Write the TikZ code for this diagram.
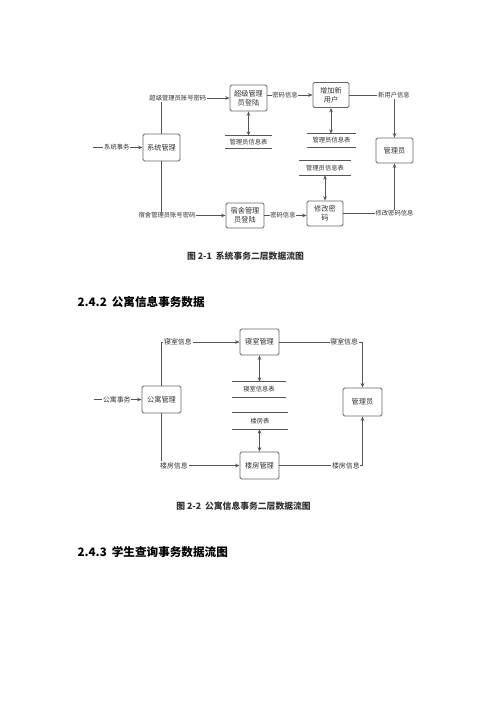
\documentclass[tikz,border=0pt]{standalone}
\usepackage{fontspec}
\setmainfont{Noto Sans CJK SC}
\usetikzlibrary{arrows.meta}
\definecolor{ln}{HTML}{555555}
\definecolor{bx}{HTML}{666666}
\definecolor{tx}{HTML}{333333}
\begin{document}
\begin{tikzpicture}[x=1pt,y=-1pt,
  box/.style={draw=bx, line width=0.8pt, rounded corners=1.5pt, fill=white, inner sep=0pt, align=center, text=tx, font=\fontsize{7.2}{8.6}\selectfont},
  lbl/.style={fill=white, inner sep=0.8pt, text=tx, font=\fontsize{6.3}{7}\selectfont},
  lblb/.style={fill=white, inner sep=0.8pt, text=tx, font=\fontsize{6.9}{7.5}\selectfont},
  store/.style={inner sep=0pt, text=tx, font=\fontsize{6.3}{7}\selectfont},
  tl/.style={draw=ln, line width=0.8pt},
  arr/.style={draw=ln, line width=0.8pt, -{Stealth[length=4.5pt,width=3.6pt]}},
  darr/.style={draw=ln, line width=0.8pt, {Stealth[length=4.5pt,width=3.6pt]}-{Stealth[length=4.5pt,width=3.6pt]}},
  figcap/.style={text=tx, font=\bfseries\fontsize{8.8}{10}\selectfont},
  head/.style={text=black, font=\bfseries\fontsize{11.6}{13}\selectfont, anchor=west}
]
\useasboundingbox[fill=white] (0,0) rectangle (500,707);

% ---------- Figure 2-1 ----------
\node[box, minimum width=37pt, minimum height=27pt] (sys) at (161.5,147.5) {系统管理};
\node[box, minimum width=37pt, minimum height=26pt] (sup) at (248.5,98) {超级管理\\员登陆};
\node[box, minimum width=36pt, minimum height=25pt] (add) at (331,95) {增加新\\用户};
\node[box, minimum width=38pt, minimum height=25pt] (dorm) at (245,215.5) {宿舍管理\\员登陆};
\node[box, minimum width=36pt, minimum height=25pt] (mod) at (325,213.5) {修改密\\码};
\node[box, minimum width=37pt, minimum height=25pt] (adm) at (394.5,150.5) {管理员};

\node[store, minimum width=47pt, minimum height=12pt] (t1) at (248.5,142) {管理员信息表};
\node[store, minimum width=49pt, minimum height=13pt] (t2) at (331.5,140.5) {管理员信息表};
\node[store, minimum width=52pt, minimum height=14pt] (t3) at (325,168) {管理员信息表};
\foreach \t in {t1,t2,t3}{
  \draw[tl] (\t.north west) -- (\t.north east);
  \draw[tl] (\t.south west) -- (\t.south east);
}

\coordinate (in1) at (93,147.5);
\draw[arr] (in1) -- node[lbl,pos=0.48] {系统事务} (sys.west);
\draw[arr] (sys.north) |- node[lbl,pos=0.62] {超级管理员账号密码} (sup.west);
\draw[arr] (sys.south) |- node[lbl,pos=0.543] {宿舍管理员账号密码} (dorm.west);
\draw[arr] (sup.east |- add.west) -- node[lbl,pos=0.39] {密码信息} (add.west);
\draw[arr] (dorm.east) -- node[lbl,pos=0.44] {密码信息} (dorm.east -| mod.west);
\draw[arr] (add.east) -| node[lbl,pos=0.494] {新用户信息} (adm.north);
\draw[arr] (mod.east) -| node[lbl,pos=0.5] {修改密码信息} (adm.south);
\draw[darr] (sup.south) -- (sup.south |- t1.north);
\draw[darr] (add.south) -- (add.south |- t2.north);
\draw[darr] (mod.north |- t3.south) -- (mod.north);

\node[figcap] (cap1) at (245.5,256) {图 2-1\hspace{4pt}系统事务二层数据流图};
\node[head] (h1) at (74,302) {2.4.2\hspace{5pt}公寓信息事务数据};

% ---------- Figure 2-2 ----------
\node[box, minimum width=39pt, minimum height=27pt] (apt) at (161.5,399.5) {公寓管理};
\node[box, minimum width=39pt, minimum height=26pt] (room) at (259.5,342) {寝室管理};
\node[box, minimum width=39pt, minimum height=27pt] (bldg) at (259.5,465.5) {楼房管理};
\node[box, minimum width=39pt, minimum height=28pt] (adm2) at (362.5,402) {管理员};

\node[store, minimum width=54pt, minimum height=15pt] (t4) at (259,389.5) {寝室信息表};
\node[store, minimum width=56pt, minimum height=16pt] (t5) at (260,421) {楼房表};
\foreach \t in {t4,t5}{
  \draw[tl] (\t.north west) -- (\t.north east);
  \draw[tl] (\t.south west) -- (\t.south east);
}

\coordinate (in2) at (94,399.5);
\draw[arr] (in2) -- node[lblb,pos=0.48] {公寓事务} (apt.west);
\draw[arr] (apt.north) |- node[lblb,pos=0.605] {寝室信息} (room.west);
\draw[arr] (apt.south) |- node[lblb,pos=0.58] {楼房信息} (bldg.west);
\draw[arr] (room.east) -| node[lblb,pos=0.39] {寝室信息} (adm2.north);
\draw[arr] (bldg.east) -| node[lblb,pos=0.4] {楼房信息} (adm2.south);
\draw[darr] (room.south) -- (room.south |- t4.north);
\draw[darr] (bldg.north |- t5.south) -- (bldg.north);

\node[figcap] (cap2) at (243.5,506) {图 2-2\hspace{4pt}公寓信息事务二层数据流图};
\node[head] (h2) at (74,552) {2.4.3\hspace{5pt}学生查询事务数据流图};
\end{tikzpicture}
\end{document}
